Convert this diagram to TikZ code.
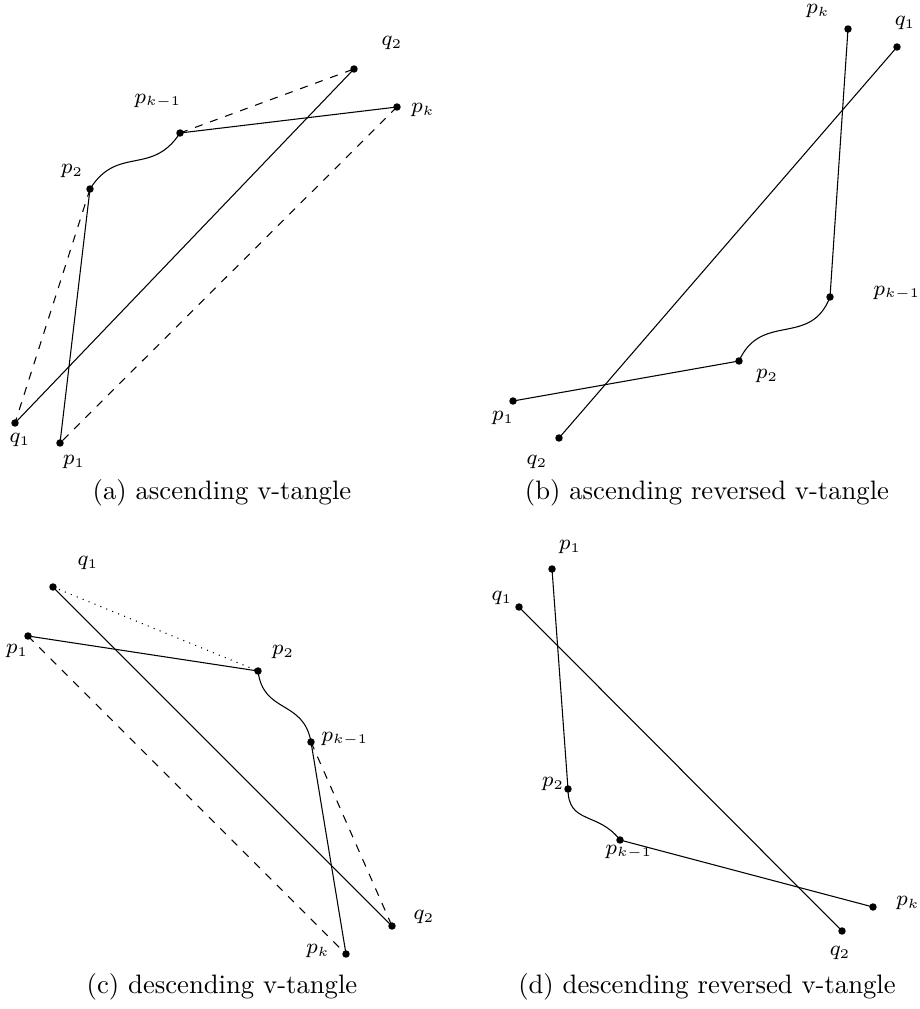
\documentclass[tikz,border=0pt]{standalone}
\begin{document}
\begin{tikzpicture}[x=0.375pt,y=0.375pt,
  dotpt/.style={circle,fill=black,inner sep=0pt,minimum size=2.8pt},
  lab/.style={font=\fontsize{7.6}{9}\selectfont,inner sep=0pt},
  captxt/.style={font=\normalsize,inner sep=0pt},
  seg/.style={line width=0.4pt},
  dsh/.style={dashed},
  dts/.style={dotted},
  wig/.style={looseness=1.25}]
\useasboundingbox (0,0) rectangle (919,-1009);
% ---------- (a)
\node[dotpt] (aq2) at (354,-69) {};
\node[dotpt] (apk) at (397,-107) {};
\node[dotpt] (apk1) at (180,-133) {};
\node[dotpt] (ap2) at (90,-189) {};
\node[dotpt] (aq1) at (15,-423) {};
\node[dotpt] (ap1) at (60,-443) {};
\node[lab] (laq2) at (392,-43) {$q_2$};
\node[lab] (lapk) at (423,-110) {$p_k$};
\node[lab] (lapk1) at (158,-101) {$p_{k-1}$};
\node[lab] (lap2) at (72,-171) {$p_2$};
\node[lab] (laq1) at (20,-440) {$q_1$};
\node[lab] (lap1) at (74,-462) {$p_1$};
\draw[seg] (apk1.center) -- (apk.center);
\draw[seg,dsh] (apk1.center) -- (aq2.center);
\draw[seg] (aq2.center) -- (aq1.center);
\draw[seg,dsh] (apk.center) -- (ap1.center);
\draw[seg,dsh] (ap2.center) -- (aq1.center);
\draw[seg] (ap2.center) -- (ap1.center);
\draw[seg,wig] (ap2.center) to[out=58,in=-123] (apk1.center);
\node[captxt] (capa) at (222,-493) {(a) ascending v-tangle};
% ---------- (b)
\node[dotpt] (bpk) at (848,-29) {};
\node[dotpt] (bq1) at (897,-47) {};
\node[dotpt] (bpk1) at (830,-297) {};
\node[dotpt] (bp2) at (739,-361) {};
\node[dotpt] (bp1) at (513,-401) {};
\node[dotpt] (bq2) at (559,-438) {};
\node[lab] (lbpk) at (818,-11) {$p_k$};
\node[lab] (lbq1) at (905,-23) {$q_1$};
\node[lab] (lbpk1) at (897,-293) {$p_{k-1}$};
\node[lab] (lbp2) at (767,-376) {$p_2$};
\node[lab] (lbp1) at (503,-418) {$p_1$};
\node[lab] (lbq2) at (537,-462) {$q_2$};
\draw[seg] (bpk.center) -- (bpk1.center);
\draw[seg] (bq1.center) -- (bq2.center);
\draw[seg] (bp1.center) -- (bp2.center);
\draw[seg,wig] (bp2.center) to[out=66,in=-111] (bpk1.center);
\node[captxt] (capb) at (707,-493) {(b) ascending reversed v-tangle};
% ---------- (c)
\node[dotpt] (cq1) at (53,-587) {};
\node[dotpt] (cp1) at (28,-636) {};
\node[dotpt] (cp2) at (258,-671) {};
\node[dotpt] (cpk1) at (311,-742) {};
\node[dotpt] (cq2) at (392,-926) {};
\node[dotpt] (cpk) at (346,-954) {};
\node[lab] (lcq1) at (88,-563) {$q_1$};
\node[lab] (lcp1) at (17,-651) {$p_1$};
\node[lab] (lcp2) at (283,-652) {$p_2$};
\node[lab] (lcpk1) at (345,-739) {$p_{k-1}$};
\node[lab] (lcq2) at (424,-917) {$q_2$};
\node[lab] (lcpk) at (318,-951) {$p_k$};
\draw[seg] (cq1.center) -- (cq2.center);
\draw[seg,dts] (cq1.center) -- (cp2.center);
\draw[seg] (cp1.center) -- (cp2.center);
\draw[seg,dsh] (cp1.center) -- (cpk.center);
\draw[seg] (cpk1.center) -- (cpk.center);
\draw[seg,dsh] (cpk1.center) -- (cq2.center);
\draw[seg,wig] (cp2.center) to[out=-83,in=100] (cpk1.center);
\node[captxt] (capc) at (222,-987) {(c) descending v-tangle};
% ---------- (d)
\node[dotpt] (dp1) at (552,-569) {};
\node[dotpt] (dq1) at (519,-607) {};
\node[dotpt] (dp2) at (568,-789) {};
\node[dotpt] (dpk1) at (620,-840) {};
\node[dotpt] (dpk) at (873,-907) {};
\node[dotpt] (dq2) at (842,-931) {};
\node[lab] (ldp1) at (570,-547) {$p_1$};
\node[lab] (ldq1) at (502,-598) {$q_1$};
\node[lab] (ldp2) at (553,-784) {$p_2$};
\node[lab] (ldpk1) at (629,-852) {$p_{k-1}$};
\node[lab] (ldpk) at (908,-903) {$p_k$};
\node[lab] (ldq2) at (840,-953) {$q_2$};
\draw[seg] (dp1.center) -- (dp2.center);
\draw[seg] (dq1.center) -- (dq2.center);
\draw[seg] (dpk1.center) -- (dpk.center);
\draw[seg,wig] (dp2.center) to[out=-90,in=127] (dpk1.center);
\node[captxt] (capd) at (707,-987) {(d) descending reversed v-tangle};
\end{tikzpicture}
\end{document}
